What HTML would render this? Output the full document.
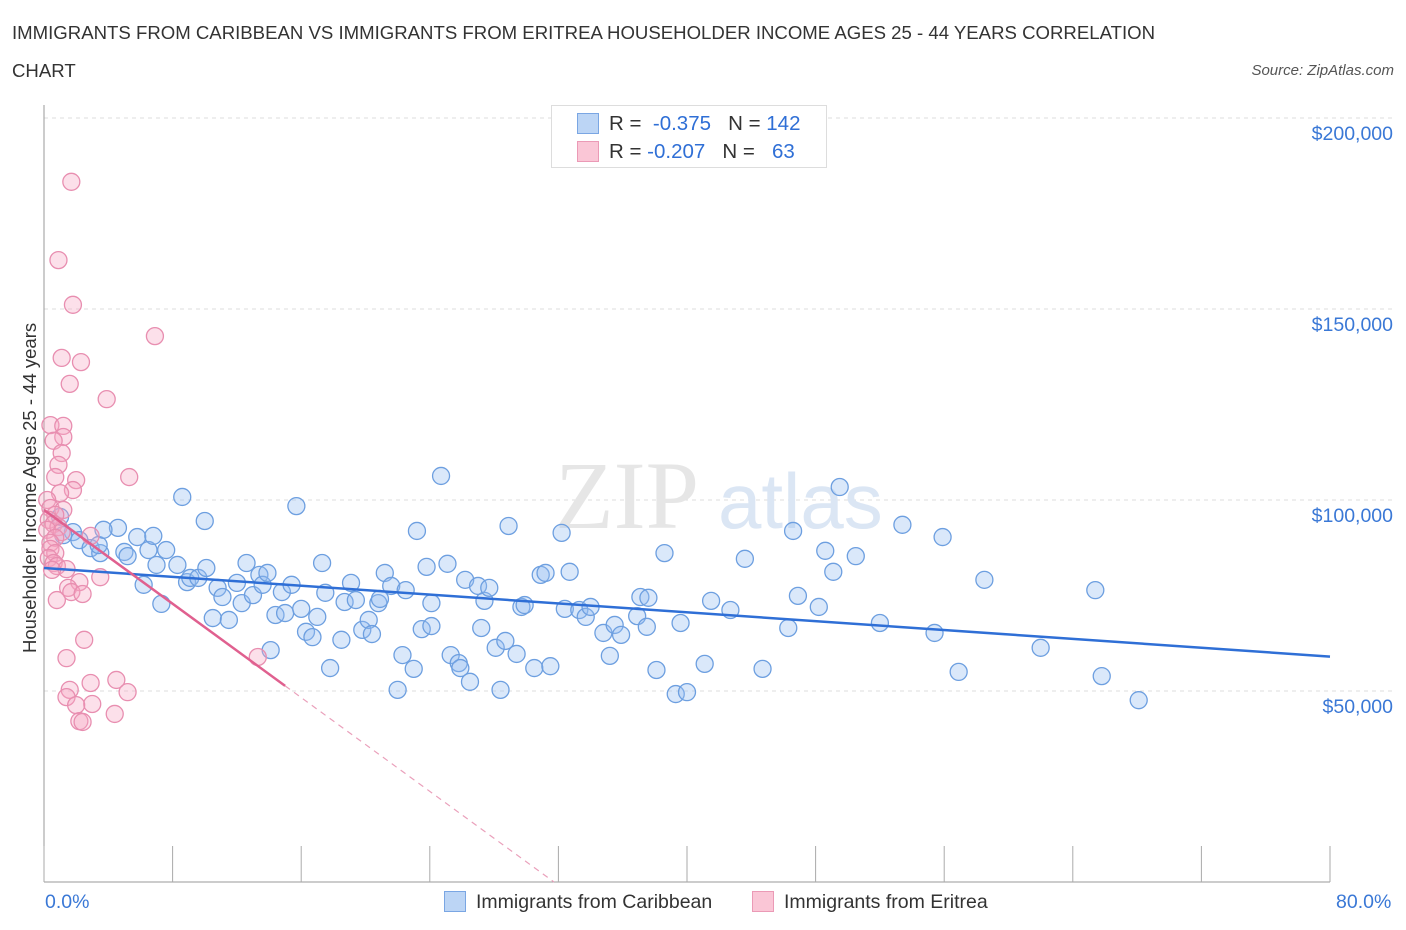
<!DOCTYPE html>
<html><head><meta charset="utf-8"><style>
body{margin:0;background:#fff;font-family:"Liberation Sans",sans-serif;}
#wrap{position:relative;width:1406px;height:930px;overflow:hidden;}
.t{position:absolute;white-space:nowrap;}
</style></head><body>
<div id="wrap">
<div class="t" style="left:12px;top:14px;font-size:18.6px;color:#333;line-height:38px;width:1160px;white-space:normal;">IMMIGRANTS FROM CARIBBEAN VS IMMIGRANTS FROM ERITREA HOUSEHOLDER INCOME AGES 25 - 44 YEARS CORRELATION CHART</div>
<div class="t" style="right:12px;top:62px;font-size:15px;color:#555;font-style:italic;">Source: ZipAtlas.com</div>
<svg id="svg" width="1406" height="930" style="position:absolute;left:0;top:0"></svg>
</div>
<script>
const blueX=[1.0,1.8,1.2,2.2,2.9,3.5,4.6,3.4,3.7,5.0,5.2,5.8,6.5,6.8,7.0,7.6,6.2,7.3,8.3,8.6,8.9,9.1,9.6,10.0,10.1,10.5,10.8,11.1,11.5,12.0,12.3,12.6,13.0,13.4,13.6,13.9,14.1,14.4,14.8,15.0,15.4,15.7,16.0,16.3,16.7,17.0,17.3,17.5,17.8,18.5,18.7,19.1,19.4,19.8,20.2,20.4,20.8,20.9,21.2,21.6,22.0,22.3,22.5,23.0,23.2,23.5,23.8,24.1,24.1,24.7,25.1,25.3,25.8,25.9,26.2,26.5,27.0,27.2,27.4,27.7,28.1,28.4,28.7,28.9,29.4,29.7,29.9,30.5,30.9,31.2,31.5,32.2,32.4,32.7,33.3,33.7,34.0,34.8,35.2,35.5,35.9,36.9,37.1,37.5,37.6,38.1,38.6,39.3,39.6,40.0,41.1,41.5,42.7,43.6,44.7,46.3,46.6,46.9,48.2,48.6,49.1,49.5,50.5,52.0,53.4,55.4,55.9,56.9,58.5,62.0,65.4,65.8,68.1];
const blueY=[95.6,91.6,90.8,89.5,87.4,86.1,92.7,88.2,92.2,86.4,85.3,90.3,86.9,90.6,83.0,86.9,77.8,72.8,83.0,100.8,78.5,79.6,79.6,94.5,82.2,69.1,77.0,74.6,68.6,78.3,73.0,83.5,75.1,80.4,77.8,80.9,60.7,69.9,75.9,70.4,77.8,98.4,71.5,65.5,64.1,69.4,83.5,75.7,56.0,63.4,73.3,78.3,73.8,66.0,68.6,64.9,73.0,74.1,80.9,77.5,50.3,59.4,76.4,55.8,91.9,66.2,82.5,73.0,67.0,106.3,83.3,59.4,57.3,56.0,79.1,52.4,77.5,66.5,73.6,77.0,61.3,50.3,63.1,93.2,59.7,72.0,72.5,56.0,80.4,80.9,56.5,91.4,71.5,81.2,71.2,69.4,72.0,65.2,59.2,67.3,64.7,69.6,74.6,66.8,74.4,55.5,86.1,49.2,67.8,49.7,57.1,73.6,71.2,84.6,55.8,66.5,91.9,74.9,72.0,86.7,81.2,103.4,85.3,67.8,93.5,65.2,90.3,55.0,79.1,61.3,76.4,53.9,47.6];
const pinkX=[1.7,0.9,1.8,6.9,1.1,2.3,1.6,3.9,0.4,1.2,1.2,0.6,1.1,0.9,2.0,5.3,0.7,1.8,1.0,0.2,0.4,1.2,0.7,0.3,0.6,0.9,0.2,1.1,2.9,0.7,0.4,0.4,0.7,0.3,0.6,0.8,1.4,0.5,2.2,3.5,1.5,1.7,2.4,0.8,2.5,1.4,13.3,4.5,2.9,1.6,5.2,1.4,3.0,2.0,4.4,2.2,2.4];
const pinkY=[183.3,162.8,151.1,142.9,137.2,136.1,130.4,126.4,119.6,119.4,116.5,115.5,112.3,109.2,105.2,106.0,106.0,102.6,101.8,100.0,97.9,97.4,96.1,94.8,93.7,92.9,92.2,91.6,90.6,90.1,88.8,87.2,86.1,84.8,83.5,82.7,81.9,81.7,78.5,79.8,77.0,75.9,75.4,73.8,63.4,58.6,58.9,52.9,52.1,50.3,49.7,48.4,46.6,46.3,44.0,42.1,41.9];
const blueTrend=[82.2,-0.29];   // intercept (k$), slope per %
const pinkTrend=[97.4,-3.07];
const yTicks=[50,100,150,200];
const yTickLabels=["$50,000","$100,000","$150,000","$200,000"];
const xTicks=[0,8,16,24,32,40,48,56,64,72,80];

const X0=44,X1=1330,Y0=882,PX=191/50;
const sx=v=>X0+(X1-X0)*v/80;
const sy=v=>Y0-v*PX;
const svg=document.getElementById('svg');
const NS='http://www.w3.org/2000/svg';
function mk(tag,attrs,name){const e=document.createElementNS(NS,tag);for(const k in attrs)e.setAttribute(k,attrs[k]);svg.appendChild(e);return e;}
yTicks.forEach((v,i)=>{
  const g=mk('line',{x1:X0,x2:1395,y1:sy(v),y2:sy(v),stroke:'#ddd','stroke-dasharray':'4,4','stroke-width':1},'gridline');
  const t=mk('text',{x:1393,y:sy(v)+22,'text-anchor':'end','font-size':19.5,fill:'#3a78d6','font-family':'Liberation Sans'},'y-tick-label');
  t.textContent=yTickLabels[i];
});
mk('line',{x1:X0,x2:X0,y1:105,y2:Y0,stroke:'#999'},'y-axis');
mk('line',{x1:X0,x2:X1,y1:Y0,y2:Y0,stroke:'#999'},'x-axis');
xTicks.forEach(v=>{mk('line',{x1:sx(v),x2:sx(v),y1:Y0,y2:Y0-36,stroke:'#aaa'},'x-tick');});
let w=mk('text',{x:555,y:528,'font-size':96,fill:'#e6e6e6','font-family':'Liberation Serif'},'watermark-zip');w.textContent='ZIP';
w=mk('text',{x:718,y:528,'font-size':78,fill:'#dbe6f4','font-family':'Liberation Sans'},'watermark-atlas');w.textContent='atlas';
blueX.forEach((x,i)=>{mk('circle',{cx:sx(x),cy:sy(blueY[i]),r:8.5,fill:'rgba(150,190,240,0.35)',stroke:'#6d9fe0','stroke-width':1.3},'caribbean-point');});
pinkX.forEach((x,i)=>{mk('circle',{cx:sx(x),cy:sy(pinkY[i]),r:8.5,fill:'rgba(245,165,195,0.35)',stroke:'#e88eb0','stroke-width':1.3},'eritrea-point');});
mk('line',{x1:sx(0),y1:sy(blueTrend[0]),x2:sx(80),y2:sy(blueTrend[0]+blueTrend[1]*80),stroke:'#2f6fd6','stroke-width':2.5},'caribbean-trend-line');
const pz=-pinkTrend[0]/pinkTrend[1];
mk('line',{x1:sx(0),y1:sy(pinkTrend[0]),x2:sx(15),y2:sy(pinkTrend[0]+pinkTrend[1]*15),stroke:'#e0608f','stroke-width':2.5},'eritrea-trend-line');
mk('line',{x1:sx(15),y1:sy(pinkTrend[0]+pinkTrend[1]*15),x2:sx(pz),y2:sy(0),stroke:'#eaa0bb','stroke-width':1.2,'stroke-dasharray':'6,5'},'eritrea-trend-dashed');
</script>
<div class="t" style="left:551px;top:105px;width:274px;height:61px;border:1px solid #ddd;background:#fff;"></div>
<div class="t" style="left:577px;top:113px;width:20px;height:19px;background:#bcd5f5;border:1px solid #7aa6e3;"></div>
<div class="t" style="left:577px;top:141px;width:20px;height:19px;background:#fac6d6;border:1px solid #eb9ab6;"></div>
<div class="t" style="left:609px;top:112px;font-size:20.5px;color:#333;">R = <span style="color:#2f6fd6">&nbsp;-0.375</span>&nbsp;&nbsp;&nbsp;N = <span style="color:#2f6fd6">142</span></div>
<div class="t" style="left:609px;top:140px;font-size:20.5px;color:#333;">R = <span style="color:#2f6fd6">-0.207</span>&nbsp;&nbsp;&nbsp;N = <span style="color:#2f6fd6">&nbsp;&nbsp;63</span></div>
<div class="t" style="left:-130px;top:482px;width:320px;text-align:center;font-size:18.5px;color:#333;transform:rotate(-90deg);">Householder Income Ages 25 - 44 years</div>
<div class="t" style="left:45px;top:891px;font-size:19.5px;color:#3a78d6;">0.0%</div>
<div class="t" style="left:1336px;top:891px;font-size:19.5px;color:#3a78d6;">80.0%</div>
<div class="t" style="left:444px;top:891px;width:20px;height:19px;background:#bcd5f5;border:1px solid #7aa6e3;"></div>
<div class="t" style="left:476px;top:891px;font-size:19.5px;color:#333;">Immigrants from Caribbean</div>
<div class="t" style="left:752px;top:891px;width:20px;height:19px;background:#fac6d6;border:1px solid #eb9ab6;"></div>
<div class="t" style="left:784px;top:891px;font-size:19.5px;color:#333;">Immigrants from Eritrea</div>
</body></html>
